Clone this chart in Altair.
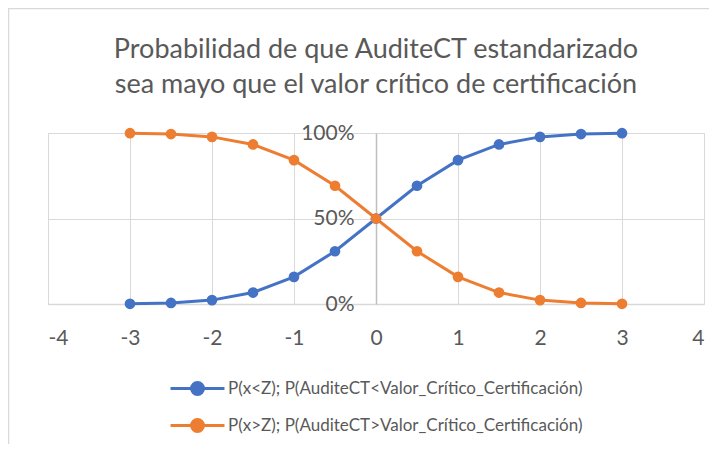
import altair as alt
import pandas as pd

# ---- data ----
x_vals = [-3, -2.5, -2, -1.5, -1, -0.5, 0, 0.5, 1, 1.5, 2, 2.5, 3]
p_less = [0.0013, 0.0062, 0.0228, 0.0668, 0.1587, 0.3085, 0.5,
          0.6915, 0.8413, 0.9332, 0.9772, 0.9938, 0.9987]
p_greater = [0.9987, 0.9938, 0.9772, 0.9332, 0.8413, 0.6915, 0.5,
             0.3085, 0.1587, 0.0668, 0.0228, 0.0062, 0.0013]
series_names = ["P(x<Z); P(AuditeCT<Valor_Crítico_Certificación)",
                "P(x>Z); P(AuditeCT>Valor_Crítico_Certificación)"]
series_colors = ["#4472C4", "#ED7D31"]
x_ticks = [-4, -3, -2, -1, 0, 1, 2, 3, 4]
y_ticks = [0, 0.5, 1]
title_lines = ["Probabilidad de que AuditeCT estandarizado",
               "sea mayo que el valor crítico de certificación"]

df = pd.concat([
    pd.DataFrame({"x": x_vals, "p": p_less, "serie": series_names[0]}),
    pd.DataFrame({"x": x_vals, "p": p_greater, "serie": series_names[1]}),
])

TEXT = "#595959"
GRID = "#d9d9d9"
FONT = "Lato"

sym_path = ("M-4.15,0L4.15,0M-0.92,0A0.92,0.92,0,1,1,0.92,0"
            "A0.92,0.92,0,1,1,-0.92,0Z")

legend = alt.Legend(
    title=None, orient="none", legendX=141, legendY=247, direction="vertical",
    symbolType=sym_path, symbolSize=169, symbolStrokeWidth=3,
    labelFont=FONT, labelFontSize=17, labelColor=TEXT, labelOffset=22,
    labelLimit=600, rowPadding=12, padding=0,
)

x_enc = alt.X("x:Q", scale=alt.Scale(domain=[-4, 4], nice=False),
              axis=alt.Axis(values=x_ticks, labelExpr="'' + datum.value",
                            grid=True, gridColor=GRID, domainColor=GRID,
                            domainWidth=1.5, ticks=False, labelPadding=23,
                            labelFont=FONT, labelFontSize=21, labelColor=TEXT,
                            title=None))
y_enc = alt.Y("p:Q", scale=alt.Scale(domain=[0, 1], nice=False),
              axis=alt.Axis(values=y_ticks, format=".0%", orient="left",
                            offset=-328, grid=True, gridColor=GRID,
                            domainColor="#bfbfbf", domainWidth=1.5,
                            ticks=False, labelPadding=22, labelFont=FONT,
                            labelFontSize=21, labelColor=TEXT, title=None))

scale = alt.Scale(domain=series_names, range=series_colors)

lines = alt.Chart(df).mark_line(strokeWidth=3).encode(
    x=x_enc, y=y_enc,
    stroke=alt.Stroke("serie:N", scale=scale, legend=legend),
)
points = alt.Chart(df).mark_circle(size=115, opacity=1).encode(
    x=x_enc, y=y_enc,
    fill=alt.Fill("serie:N", scale=scale, legend=legend),
)

one = alt.Data(values=[{}])
frame_top = alt.Chart(one).mark_rule(color=GRID, strokeWidth=1.5).encode(
    x=alt.value(-40), x2=alt.value(700), y=alt.value(-124.5))
frame_left = alt.Chart(one).mark_rule(color=GRID, strokeWidth=1.5).encode(
    x=alt.value(-39.5), y=alt.value(-125), y2=alt.value(330))

title1 = alt.Chart(one).mark_text(
    font=FONT, fontSize=27, color=TEXT, align="center", baseline="middle",
    text=title_lines[0]).encode(x=alt.value(328), y=alt.value(-83))
title2 = alt.Chart(one).mark_text(
    font=FONT, fontSize=27, color=TEXT, align="center", baseline="middle",
    text=title_lines[1]).encode(x=alt.value(328), y=alt.value(-48))

chart = alt.layer(frame_top, frame_left, title1, title2, lines, points).properties(
    width=656, height=171,
    autosize=alt.AutoSizeParams(type="none"),
    padding={"left": 40, "top": 125, "right": 5, "bottom": 140},
).configure_view(stroke="transparent").configure(font=FONT)

chart.save("out.html", embed_options={"renderer": "svg", "actions": False})
